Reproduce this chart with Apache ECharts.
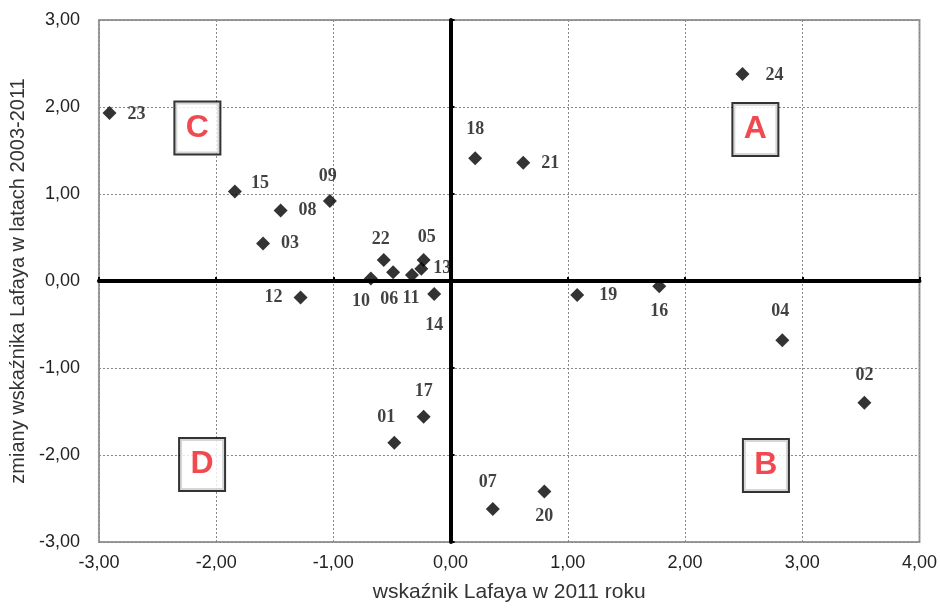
<!DOCTYPE html>
<html>
<head>
<meta charset="utf-8">
<script src="https://cdn.jsdelivr.net/npm/echarts@6/dist/echarts.min.js"></script>
<style>html,body{margin:0;padding:0;background:#fff}#c{width:940px;height:608px}</style>
</head>
<body>
<div id="c"></div>
<script>
// Data
const ids = ['01','02','03','04','05','06','07','08','09','10','11','12','13','14','15','16','17','18','19','20','21','22','23','24'];
const xValues = [-0.48, 3.53, -1.60, 2.83, -0.23, -0.49, 0.36, -1.45, -1.03, -0.68, -0.33, -1.28, -0.25, -0.14, -1.84, 1.78, -0.23, 0.21, 1.08, 0.80, 0.62, -0.57, -2.91, 2.49];
const yValues = [-1.86, -1.40, 0.43, -0.68, 0.24, 0.10, -2.62, 0.81, 0.92, 0.03, 0.07, -0.19, 0.14, -0.15, 1.03, -0.06, -1.56, 1.41, -0.16, -2.42, 1.36, 0.24, 1.93, 2.38];
const quadrantNames = ['A','B','C','D'];
const quadrantX = [2.60, 2.69, -2.16, -2.12];
const quadrantY = [1.74, -2.12, 1.76, -2.11];
const xTicks = [-3, -2, -1, 0, 1, 2, 3, 4];
const yTicks = [-3, -2, -1, 0, 1, 2, 3];

// Label placement (style)
const labelPlace = {
  '01': ['top', [-8, -4]], '02': ['top', [0, -6]], '03': ['right', [6, 0]], '04': ['top', [-2, -8]],
  '05': ['top', [3, -2]], '06': ['bottom', [-4, 6]], '07': ['top', [-5, -6]], '08': ['right', [6, 0]],
  '09': ['top', [-2, -4]], '10': ['bottom', [-10, 2]], '11': ['bottom', [-1, 2]], '12': ['left', [-6, 0]],
  '13': ['right', [0, 0]], '14': ['bottom', [0, 10]], '15': ['right', [4, -8]], '16': ['bottom', [0, 4]],
  '17': ['top', [0, -4]], '18': ['top', [0, -8]], '19': ['right', [10, 0]], '20': ['bottom', [0, 4]],
  '21': ['right', [6, 1]], '22': ['top', [-3, 0]], '23': ['right', [6, 1]], '24': ['right', [11, 1]]
};

const fmt = v => v.toFixed(2).replace('.', ',');

const points = ids.map((id, i) => ({
  value: [xValues[i], yValues[i]],
  name: id,
  label: { position: labelPlace[id][0], offset: labelPlace[id][1] }
}));

const quads = quadrantNames.map((n, i) => ({ value: [quadrantX[i], quadrantY[i]], name: n }));

const chart = echarts.init(document.getElementById('c'));
const sans = 'Liberation Sans, Arial, sans-serif';
const axisLabelStyle = { color: '#222', fontSize: 18, fontFamily: sans };
chart.setOption({
  animation: false,
  grid: { left: 98, right: 20, top: 20, bottom: 62, show: true, borderColor: '#9a9a9a', borderWidth: 2, containLabel: false },
  xAxis: [{
    type: 'value', min: -3, max: 4, interval: 1,
    axisLine: { show: false, onZero: false },
    axisTick: { show: false },
    axisLabel: Object.assign({ formatter: fmt, margin: 12 }, axisLabelStyle),
    splitLine: { show: true, lineStyle: { color: '#888', type: [2, 2], width: 1 } },
    name: 'wskaźnik Lafaya w 2011 roku', nameLocation: 'middle', nameGap: 40,
    nameTextStyle: { color: '#333', fontSize: 21, fontFamily: sans }
  }, {
    type: 'value', min: -3, max: 4, interval: 1, position: 'bottom',
    axisLine: { show: true, onZero: true, lineStyle: { color: '#000', width: 4 } },
    axisTick: { show: true, inside: true, length: 4, lineStyle: { color: '#000', width: 2 } },
    axisLabel: { show: false }, splitLine: { show: false }
  }],
  yAxis: [{
    type: 'value', min: -3, max: 3, interval: 1,
    axisLine: { show: false, onZero: false },
    axisTick: { show: false },
    axisLabel: Object.assign({ formatter: fmt, margin: 19 }, axisLabelStyle),
    splitLine: { show: true, lineStyle: { color: '#888', type: [2, 2], width: 1 } },
    name: 'zmiany wskaźnika Lafaya w latach 2003-2011', nameLocation: 'middle', nameGap: 68,
    nameTextStyle: { color: '#333', fontSize: 20, fontFamily: sans }
  }, {
    type: 'value', min: -3, max: 3, interval: 1, position: 'left',
    axisLine: { show: true, onZero: true, lineStyle: { color: '#000', width: 4 } },
    axisTick: { show: true, inside: true, length: 4, lineStyle: { color: '#000', width: 2 } },
    axisLabel: { show: false }, splitLine: { show: false }
  }],
  series: [{
    type: 'scatter', xAxisIndex: 0, yAxisIndex: 0,
    symbol: 'diamond', symbolSize: 14,
    itemStyle: { color: '#000' },
    label: {
      show: true, formatter: p => p.name, color: '#111',
      fontSize: 18, fontWeight: 'bold', fontFamily: 'Liberation Serif, Times New Roman, serif'
    },
    data: points, z: 5
  }, {
    type: 'scatter', xAxisIndex: 0, yAxisIndex: 0,
    symbolSize: 1, itemStyle: { color: 'rgba(0,0,0,0)' },
    label: {
      show: true, position: 'inside', formatter: p => p.name,
      color: '#ed1c24', fontSize: 32, fontWeight: 'bold', fontFamily: sans,
      backgroundColor: '#fff', borderColor: '#000', borderWidth: 2,
      width: 44, height: 51, lineHeight: 51, align: 'center', verticalAlign: 'middle'
    },
    data: quads, z: 6
  }]
});
</script>
</body>
</html>
